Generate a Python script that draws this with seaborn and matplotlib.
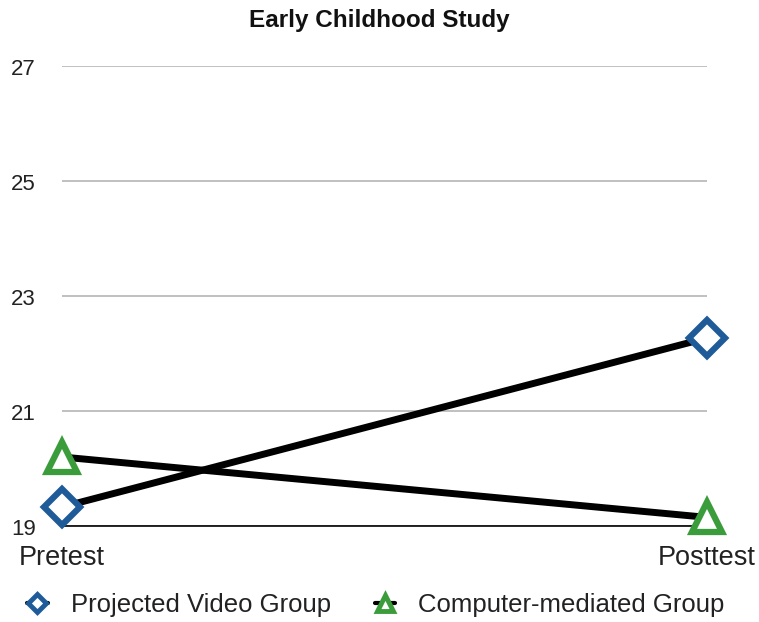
import matplotlib
matplotlib.use("Agg")
import matplotlib.pyplot as plt
from matplotlib.lines import Line2D
import matplotlib.transforms as mtransforms
import pandas as pd
import seaborn as sns

# Test phases and mean scores per group
phases = ["Pretest", "Posttest"]
projected_video = [19.33, 22.27]
computer_mediated = [20.2, 19.15]
y_ticks = [19, 21, 23, 25, 27]

BLUE = "#1f5b98"
GREEN = "#3b9c3b"

sns.set_style("white")
plt.rcParams["font.family"] = ["Liberation Sans", "DejaVu Sans"]

fig = plt.figure(figsize=(7.59, 6.22), dpi=100)
ax = fig.add_axes([62 / 759, 1 - 526 / 622, (707 - 62) / 759, (526 - 66) / 622])

df = pd.DataFrame({
    "phase": phases * 2,
    "score": projected_video + computer_mediated,
    "group": ["Projected Video Group"] * 2 + ["Computer-mediated Group"] * 2,
})

for name, marker, color in [("Projected Video Group", "D", BLUE),
                            ("Computer-mediated Group", "^", GREEN)]:
    sub = df[df["group"] == name]
    sns.lineplot(data=sub, x="phase", y="score", ax=ax, color="black",
                 linewidth=5, marker=marker, markersize=22 if marker == "^" else 18,
                 markerfacecolor="white", markeredgecolor=color,
                 markeredgewidth=4.5, clip_on=False, legend=False, zorder=5)

ax.set_xlim(0, 1)
ax.set_ylim(19, 27)
ax.set_yticks(y_ticks)
ax.set_yticklabels([str(t) for t in y_ticks])
ax.yaxis.grid(True, color="#b5b5b5", linewidth=1.2)
ax.xaxis.grid(False)
for s in ["top", "right", "left"]:
    ax.spines[s].set_visible(False)
ax.spines["bottom"].set_color("black")
ax.spines["bottom"].set_linewidth(1.2)
ax.set_xlabel("")
ax.set_ylabel("")
ax.tick_params(axis="y", length=0, pad=19, labelsize=16, labelcolor="#222222")
ax.tick_params(axis="x", length=0, pad=14, labelsize=19.5, labelcolor="#222222")

# nudge the y tick labels slightly below their grid lines
shift = mtransforms.ScaledTranslation(0, -1 / 72, fig.dpi_scale_trans)
for lbl in ax.get_yticklabels():
    lbl.set_transform(lbl.get_transform() + shift)

fig.text(0.5, 1 - 20 / 622, "Early Childhood Study", ha="center", va="center",
         fontsize=17.5, fontweight="bold", color="#111111")

handles = [
    Line2D([], [], color="black", linewidth=3, marker="D", markersize=9,
           markerfacecolor="white", markeredgecolor=BLUE, markeredgewidth=3.5),
    Line2D([], [], color="black", linewidth=3, marker="^", markersize=11,
           markerfacecolor="white", markeredgecolor=GREEN, markeredgewidth=3.5),
]
fig.legend(handles, ["Projected Video Group", "Computer-mediated Group"],
           loc="center left", bbox_to_anchor=(4 / 759, 1 - 605 / 622),
           ncol=2, frameon=False, fontsize=18.5, handlelength=0.8,
           handletextpad=0.9, columnspacing=1.7, labelcolor="#222222")

fig.savefig("out.png", dpi=100)
